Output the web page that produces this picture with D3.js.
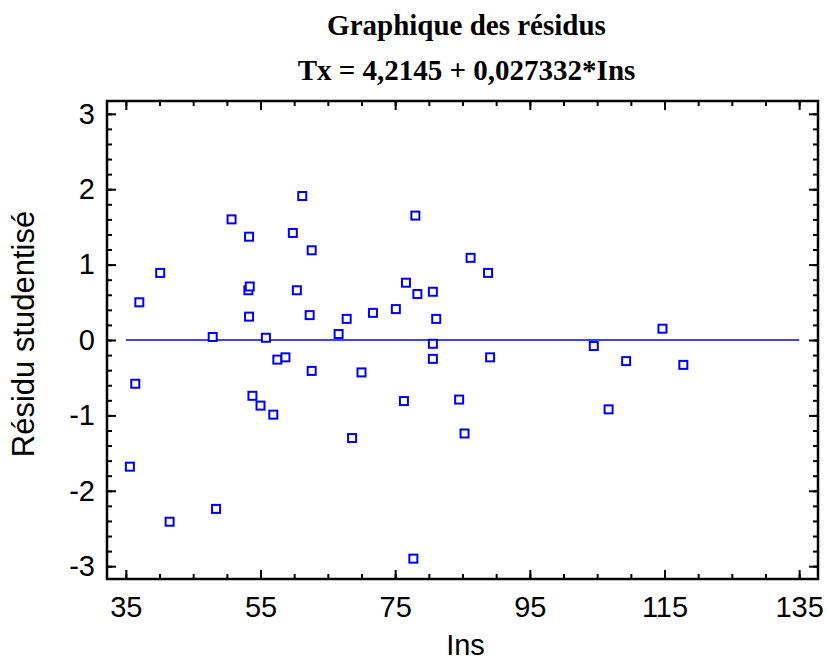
<!DOCTYPE html>
<html>
<head>
<meta charset="utf-8">
<script src="https://cdn.jsdelivr.net/npm/d3@7"></script>
<style>
  body { margin: 0; background: #fff; }
  svg { display: block; }
</style>
</head>
<body>
<div id="chart"></div>
<script>
// data
var insValues = [35.6, 36.4, 37.0, 40.1, 41.5, 47.9, 48.4, 50.7, 53.3, 53.2,
                 53.4, 53.3, 53.8, 55.0, 55.8, 56.9, 57.5, 58.7, 59.8, 60.4,
                 61.2, 62.3, 62.6, 62.6, 66.6, 67.8, 68.6, 70.0, 71.7, 75.1,
                 76.3, 76.6, 77.7, 78.0, 78.3, 80.6, 80.6, 80.6, 81.1, 84.5,
                 85.3, 86.2, 88.8, 89.1, 104.5, 106.7, 109.3, 114.7, 117.8];
var residuals = [-1.68, -0.58, 0.50, 0.89, -2.41, 0.04, -2.24, 1.60, 1.37, 0.66,
                 0.71, 0.31, -0.74, -0.87, 0.03, -0.99, -0.26, -0.23, 1.42, 0.66,
                 1.91, 0.33, 1.19, -0.41, 0.08, 0.28, -1.30, -0.43, 0.36, 0.41,
                 -0.81, 0.76, -2.90, 1.65, 0.61, 0.64, -0.05, -0.25, 0.28, -0.79,
                 -1.24, 1.09, 0.89, -0.23, -0.08, -0.92, -0.28, 0.15, -0.33];
var xTicks = [35, 55, 75, 95, 115, 135];
var yTicks = [-3, -2, -1, 0, 1, 2, 3];
var titleLines = ["Graphique des résidus", "Tx = 4,2145 + 0,027332*Ins"];

var W = 826, H = 662;
var MARGIN = {LEFT: 107, RIGHT: 8, TOP: 101, BOTTOM: 83};
var BLUE = "#0000ff";
var SANS = "Arial, 'Liberation Sans', sans-serif";

var svg = d3.select("#chart").append("svg")
    .attr("width", W)
    .attr("height", H);

var x = d3.scaleLinear().domain([32.2, 137.8]).range([MARGIN.LEFT, W - MARGIN.RIGHT]);
var y = d3.scaleLinear().domain([-3.17, 3.17]).range([H - MARGIN.BOTTOM, MARGIN.TOP]);

var x0 = x.range()[0], x1 = x.range()[1], y0 = y.range()[0], y1 = y.range()[1];

// minor ticks
var xMinor = d3.range(35, 136, 5);
var yMinor = d3.range(-30, 31, 2).map(function(d) { return d / 10; });

function axisG(axis, tx, ty) {
    var g = svg.append("g")
        .attr("transform", "translate(" + tx + "," + ty + ")")
        .call(axis);
    g.select(".domain").remove();
    g.selectAll("line").attr("stroke", "#000").attr("stroke-width", 2);
    return g;
}

// inward ticks on all four sides (negative size puts them inside the frame)
axisG(d3.axisBottom(x).tickValues(xMinor).tickSize(-5).tickFormat(""), 0, y0);
axisG(d3.axisTop(x).tickValues(xMinor).tickSize(-5).tickFormat(""), 0, y1);
axisG(d3.axisLeft(y).tickValues(yMinor).tickSize(-5).tickFormat(""), x0, 0);
axisG(d3.axisRight(y).tickValues(yMinor).tickSize(-5).tickFormat(""), x1, 0);

var xb = axisG(d3.axisBottom(x).tickValues(xTicks).tickSize(-9).tickPadding(17).tickFormat(String), 0, y0);
axisG(d3.axisTop(x).tickValues(xTicks).tickSize(-9).tickFormat(""), 0, y1);
var yl = axisG(d3.axisLeft(y).tickValues(yTicks).tickSize(-9).tickPadding(12).tickFormat(String), x0, 0);
axisG(d3.axisRight(y).tickValues(yTicks).tickSize(-9).tickFormat(""), x1, 0);

xb.selectAll("text").attr("font-family", SANS)
    .attr("font-size", 29).attr("fill", "#000");
yl.selectAll("text").attr("font-family", SANS)
    .attr("font-size", 29).attr("fill", "#000");

// frame
svg.append("rect")
    .attr("x", x0).attr("y", y1)
    .attr("width", x1 - x0).attr("height", y0 - y1)
    .attr("fill", "none")
    .attr("stroke", "#000")
    .attr("stroke-width", 2.5);

// zero line
svg.append("line")
    .attr("x1", x(35)).attr("x2", x(135))
    .attr("y1", y(0)).attr("y2", y(0))
    .attr("stroke", BLUE)
    .attr("stroke-width", 1.5);

// points
var pts = insValues.map(function(v, i) { return {ins: v, res: residuals[i]}; });
svg.append("g")
    .selectAll("rect")
    .data(pts)
    .enter()
    .append("rect")
    .attr("x", function(d) { return x(d.ins) - 4; })
    .attr("y", function(d) { return y(d.res) - 4; })
    .attr("width", 8)
    .attr("height", 8)
    .attr("fill", "#fff")
    .attr("stroke", BLUE)
    .attr("stroke-width", 2);

// titles
var cx = (x0 + x1) / 2;
svg.append("g")
    .selectAll("text")
    .data(titleLines)
    .enter()
    .append("text")
    .attr("x", cx + 4)
    .attr("y", function(d, i) { return 35 + i * 45; })
    .attr("text-anchor", "middle")
    .attr("font-family", "'Times New Roman', 'Liberation Serif', serif")
    .attr("font-weight", "bold")
    .attr("font-size", 29)
    .text(function(d) { return d; });

// axis labels
svg.append("text")
    .attr("x", cx + 3)
    .attr("y", 655)
    .attr("text-anchor", "middle")
    .attr("font-family", SANS)
    .attr("font-size", 29)
    .text("Ins");

svg.append("text")
    .attr("transform", "translate(34,334) rotate(-90)")
    .attr("text-anchor", "middle")
    .attr("font-family", SANS)
    .attr("font-size", 31)
    .text("Résidu studentisé");
</script>
</body>
</html>
